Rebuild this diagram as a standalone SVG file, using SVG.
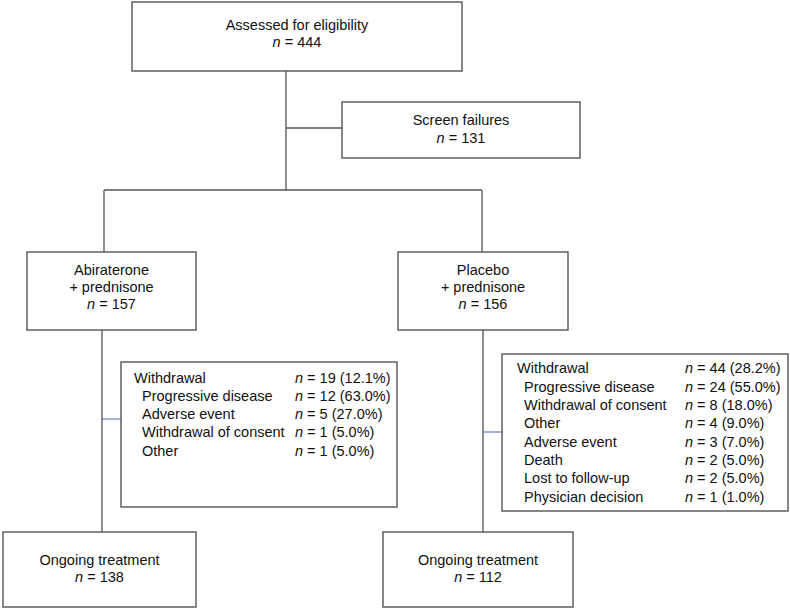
<svg xmlns="http://www.w3.org/2000/svg" width="790" height="609" viewBox="0 0 790 609">
<style>
.box{fill:#fff;stroke:#555;stroke-width:1.4}
.ln{fill:none;stroke:#555;stroke-width:1.3}
.bl{fill:none;stroke:#4a6cc4;stroke-width:1.1}
text{font-family:"Liberation Sans",Arial,sans-serif;font-size:14.5px;fill:#111}
.c{text-anchor:middle}
</style>
<g id="connectors">
<path class="ln" d="M286 71V190M286 128H342M104 190H482M104 190V252M482 190V252M102 330V532M483 330V532"/>
<path class="bl" d="M102 419H121M483 432H502"/>
</g>
<g id="assessed">
<rect class="box" x="132" y="2" width="330" height="69"/>
<text class="c" x="297" y="30">Assessed for eligibility</text>
<text class="c" x="297" y="47"><tspan font-style="italic">n</tspan> = 444</text>
</g>
<g id="screen">
<rect class="box" x="342" y="102" width="238" height="56"/>
<text class="c" x="461" y="125">Screen failures</text>
<text class="c" x="461" y="143"><tspan font-style="italic">n</tspan> = 131</text>
</g>
<g id="abiraterone">
<rect class="box" x="27" y="252" width="169" height="78"/>
<text class="c" x="111.5" y="275">Abiraterone</text>
<text class="c" x="111.5" y="292">+ prednisone</text>
<text class="c" x="111.5" y="309"><tspan font-style="italic">n</tspan> = 157</text>
</g>
<g id="placebo">
<rect class="box" x="398" y="252" width="170" height="78"/>
<text class="c" x="483" y="275">Placebo</text>
<text class="c" x="483" y="292">+ prednisone</text>
<text class="c" x="483" y="309"><tspan font-style="italic">n</tspan> = 156</text>
</g>
<g id="withdrawal-left">
<rect class="box" x="121" y="362" width="276" height="145"/>
<text x="134" y="383">Withdrawal</text>
<text x="142" y="401">Progressive disease</text>
<text x="142" y="419">Adverse event</text>
<text x="142" y="437">Withdrawal of consent</text>
<text x="142" y="456">Other</text>
<text x="295" y="383"><tspan font-style="italic">n</tspan> = 19 (12.1%)</text>
<text x="295" y="401"><tspan font-style="italic">n</tspan> = 12 (63.0%)</text>
<text x="295" y="419"><tspan font-style="italic">n</tspan> = 5 (27.0%)</text>
<text x="295" y="437"><tspan font-style="italic">n</tspan> = 1 (5.0%)</text>
<text x="295" y="456"><tspan font-style="italic">n</tspan> = 1 (5.0%)</text>
</g>
<g id="withdrawal-right">
<rect class="box" x="502" y="354" width="286" height="157"/>
<text x="517" y="373">Withdrawal</text>
<text x="524" y="392">Progressive disease</text>
<text x="524" y="410">Withdrawal of consent</text>
<text x="524" y="428">Other</text>
<text x="524" y="447">Adverse event</text>
<text x="524" y="465">Death</text>
<text x="524" y="483">Lost to follow-up</text>
<text x="524" y="502">Physician decision</text>
<text x="685" y="373"><tspan font-style="italic">n</tspan> = 44 (28.2%)</text>
<text x="685" y="392"><tspan font-style="italic">n</tspan> = 24 (55.0%)</text>
<text x="685" y="410"><tspan font-style="italic">n</tspan> = 8 (18.0%)</text>
<text x="685" y="428"><tspan font-style="italic">n</tspan> = 4 (9.0%)</text>
<text x="685" y="447"><tspan font-style="italic">n</tspan> = 3 (7.0%)</text>
<text x="685" y="465"><tspan font-style="italic">n</tspan> = 2 (5.0%)</text>
<text x="685" y="483"><tspan font-style="italic">n</tspan> = 2 (5.0%)</text>
<text x="685" y="502"><tspan font-style="italic">n</tspan> = 1 (1.0%)</text>
</g>
<g id="ongoing-left">
<rect class="box" x="3" y="532" width="193" height="75"/>
<text class="c" x="99.5" y="565">Ongoing treatment</text>
<text class="c" x="99.5" y="582"><tspan font-style="italic">n</tspan> = 138</text>
</g>
<g id="ongoing-right">
<rect class="box" x="383" y="532" width="190" height="75"/>
<text class="c" x="478" y="565">Ongoing treatment</text>
<text class="c" x="478" y="582"><tspan font-style="italic">n</tspan> = 112</text>
</g>
</svg>
